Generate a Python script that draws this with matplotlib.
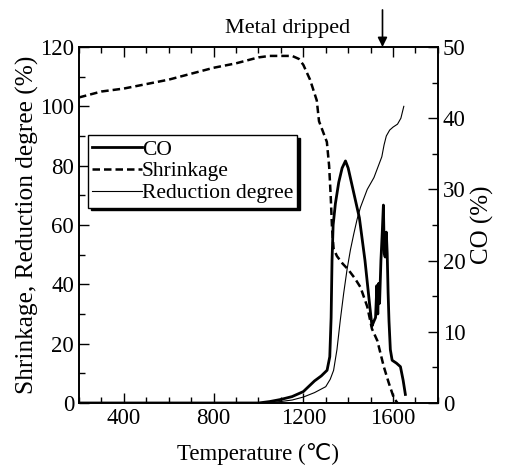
import matplotlib
matplotlib.use("Agg")
import matplotlib.pyplot as plt
from matplotlib.ticker import MultipleLocator

plt.rcParams['font.family'] = ['Liberation Serif', 'DejaVu Sans']

# Shrinkage (%) - left axis
shr_t = [200, 300, 400, 500, 600, 700, 800, 900, 1000, 1050, 1100, 1150, 1180,
         1200, 1230, 1260, 1270, 1290, 1305, 1315, 1322, 1328, 1335, 1350, 1375,
         1400, 1430, 1455, 1485, 1506, 1530, 1559, 1580, 1604, 1620]
shr_v = [103, 105, 106, 107.5, 109, 111, 113, 114.5, 116.5, 117, 117, 117, 116,
         114, 109, 102, 95, 91, 88, 80, 70, 59, 52, 49.5, 47, 45, 42, 39, 32.5,
         25, 21, 12.2, 7, 1.6, 0]

# CO (%) - right axis
co_t = [200, 1000, 1050, 1100, 1150, 1200, 1250, 1280, 1306, 1318, 1324, 1328,
        1333, 1343, 1358, 1373, 1388, 1400, 1425, 1450, 1475, 1495, 1506, 1515,
        1522, 1528, 1532, 1536, 1540, 1546, 1552, 1557, 1561, 1565, 1570, 1574,
        1578, 1582, 1588, 1596, 1615, 1633, 1645, 1655]
co_v = [0, 0, 0.2, 0.5, 0.9, 1.6, 3.1, 3.8, 4.6, 6.5, 12, 20, 25, 28, 31, 33,
        34, 33, 29.5, 26, 20, 14, 10.8, 11.5, 12, 16.5, 12.5, 16.8, 14, 20, 24,
        27.8, 21, 20.5, 24, 21, 15.5, 11.5, 7.5, 6, 5.6, 5.1, 3.2, 1.2]

# Reduction degree (%) - left axis
red_t = [1000, 1050, 1100, 1150, 1200, 1250, 1300, 1320, 1335, 1350, 1365, 1380,
         1395, 1410, 1425, 1440, 1455, 1470, 1485, 1500, 1515, 1530, 1550, 1560,
         1570, 1585, 1600, 1620, 1635, 1648]
red_v = [0, 0.2, 0.5, 1, 2, 3.5, 5.5, 8, 11, 18, 28, 37, 45, 51.6, 57, 62, 66,
         69, 72, 74, 76, 79, 83, 87, 90, 92, 93, 94, 96, 100]

fig = plt.figure(figsize=(5.08, 4.73), dpi=100)
ax = fig.add_axes([0.1555, 0.148, 0.7065, 0.7526])
ax2 = ax.twinx()

l_co, = ax2.plot(co_t, co_v, color='k', lw=2.0, label='CO')
l_sh, = ax.plot(shr_t, shr_v, color='k', lw=1.8, ls=(0, (3, 1.6)), label='Shrinkage')
l_rd, = ax.plot(red_t, red_v, color='k', lw=0.8, label='Reduction degree')

ax.set_xlim(200, 1800)
ax.set_ylim(0, 120)
ax2.set_ylim(0, 50)

ax.xaxis.set_major_locator(MultipleLocator(400))
ax.xaxis.set_minor_locator(MultipleLocator(100))
ax.yaxis.set_major_locator(MultipleLocator(20))
ax.yaxis.set_minor_locator(MultipleLocator(10))
ax2.yaxis.set_major_locator(MultipleLocator(10))
ax2.yaxis.set_minor_locator(MultipleLocator(5))

ax.tick_params(which='both', direction='in', top=True, labelsize=16.5, width=1)
ax.tick_params(axis='y', right=False)
ax.tick_params(which='major', length=7)
ax.tick_params(which='minor', length=4)
ax2.tick_params(which='both', direction='in', labelsize=16.5, width=1)
ax2.tick_params(which='major', length=7)
ax2.tick_params(which='minor', length=4)

for a in (ax, ax2):
    for s in a.spines.values():
        s.set_linewidth(1.2)

ax.set_xlabel('Temperature (℃)', fontsize=16.5, labelpad=10)
ax.set_ylabel('Shrinkage, Reduction degree (%)', fontsize=18.3, labelpad=1)
ax2.set_ylabel('CO (%)', fontsize=18, labelpad=4)

leg = ax.legend(handles=[l_co, l_sh, l_rd], loc='upper left',
                bbox_to_anchor=(0.025, 0.752), fontsize=15.5, frameon=True,
                fancybox=False, shadow={'color': 'k', 'alpha': 1},
                handlelength=2.3, handletextpad=0.0, labelspacing=0.08,
                borderpad=0.2, borderaxespad=0)
leg.get_frame().set_edgecolor('k')
leg.get_frame().set_linewidth(1.0)
ax2.set_zorder(0)
ax.set_zorder(1)
ax.patch.set_visible(False)

ax.annotate('', xy=(1553, 120), xytext=(1553, 132.5), annotation_clip=False,
            arrowprops=dict(arrowstyle='-|>', color='k', lw=1.2,
                            mutation_scale=14, shrinkA=0, shrinkB=0))
ax.text(1410, 123.0, 'Metal dripped', ha='right', va='bottom', fontsize=16)

fig.savefig('out.png', dpi=100)
